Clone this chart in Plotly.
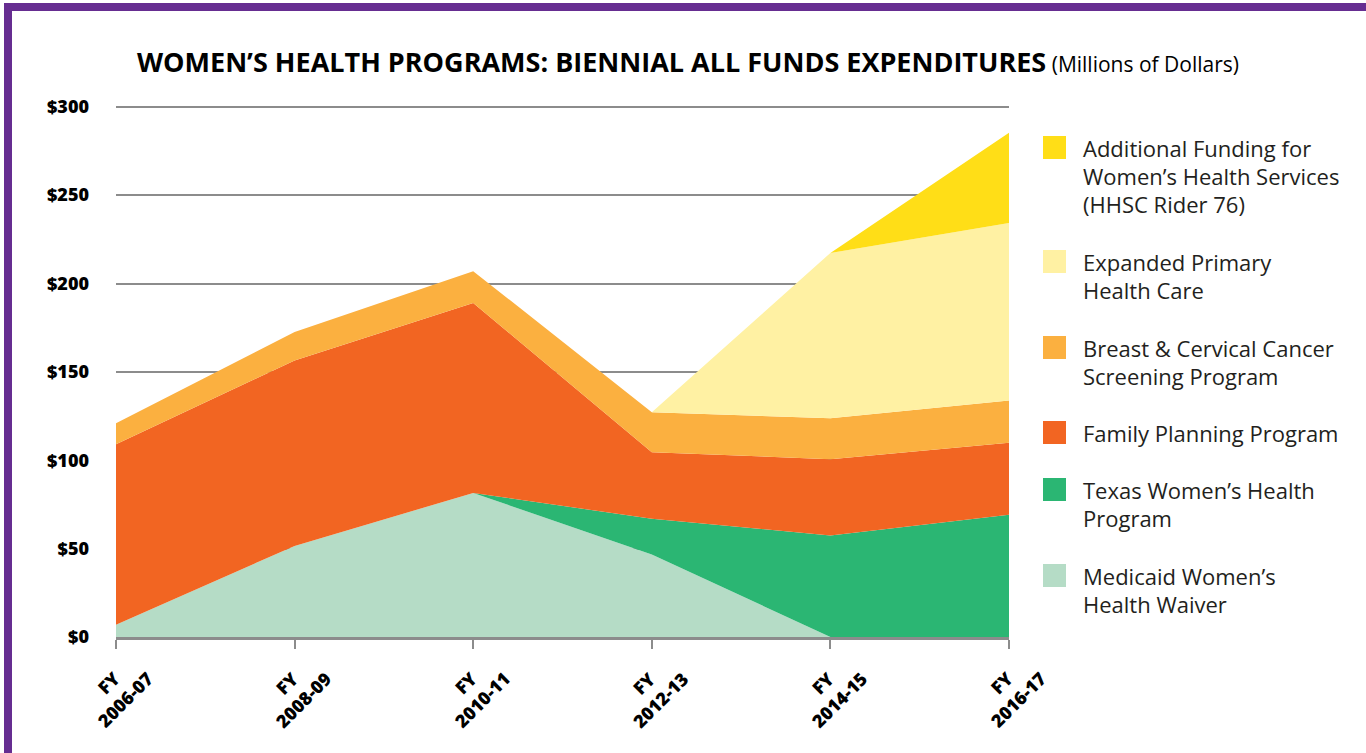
import plotly.graph_objects as go

# Biennial all funds expenditures, millions of dollars
years = ["FY 2006-07", "FY 2008-09", "FY 2010-11", "FY 2012-13", "FY 2014-15", "FY 2016-17"]
medicaid_waiver = [7, 51.5, 81.5, 46.7, 0, 0]
texas_whp = [0, 0, 0, 20.2, 57.4, 69.1]
family_planning = [102, 105, 107.5, 37.7, 43.2, 40.8]
breast_cervical = [12, 16, 18, 22.6, 23.2, 23.9]
expanded_primary = [0, 0, 0, 0, 93.5, 100.5]
rider_76 = [0, 0, 0, 0, 0, 51]

y_ticks = [0, 50, 100, 150, 200, 250, 300]
y_labels = ["$0", "$50", "$100", "$150", "$200", "$250", "$300"]

series_names = ["Medicaid Women’s Health Waiver", "Texas Women’s Health Program",
                "Family Planning Program", "Breast & Cervical Cancer Screening Program",
                "Expanded Primary Health Care",
                "Additional Funding for Women’s Health Services (HHSC Rider 76)"]
series_vals = [medicaid_waiver, texas_whp, family_planning, breast_cervical,
               expanded_primary, rider_76]
colors = ["#b5dcc6", "#2bb673", "#f26522", "#fbb040", "#fff1a3", "#ffde17"]

# legend text, top to bottom (wrapped like the original)
legend_lines = [
    ["Additional Funding for", "Women’s Health Services", "(HHSC Rider 76)"],
    ["Expanded Primary", "Health Care"],
    ["Breast & Cervical Cancer", "Screening Program"],
    ["Family Planning Program"],
    ["Texas Women’s Health", "Program"],
    ["Medicaid Women’s", "Health Waiver"],
]
legend_colors = colors[::-1]

W, H = 1366, 753
L, R, T, B = 116, 1009, 105, 637
FONT = "Open Sans"
GRAY = "#8c8c8c"
TXT = "#231f20"


def px(x):
    return (x - L) / (R - L)


def py(y):
    return (B - y) / (B - T)


fig = go.Figure()

for name, vals, col in zip(series_names, series_vals, colors):
    fig.add_trace(go.Scatter(x=years, y=vals, name=name,
                             stackgroup="one", mode="lines",
                             line=dict(width=0, color=col),
                             fillcolor=col, showlegend=False,
                             hoverinfo="skip"))

annotations = []
shapes = []

# title
annotations.append(dict(
    x=px(135), y=py(61), xref="paper", yref="paper",
    xanchor="left", yanchor="middle", showarrow=False,
    text="<b>WOMEN’S HEALTH PROGRAMS: BIENNIAL ALL FUNDS EXPENDITURES</b>"
         "<span style='font-size:21px;font-weight:normal'> (Millions of Dollars)</span>",
    font=dict(family=FONT, size=27, color="black", weight=800)))

# x tick labels, rotated
for yr in years:
    fy, span = yr.split(" ")
    annotations.append(dict(
        x=yr, y=0, xref="x", yref="y", yshift=-54,
        xanchor="center", yanchor="middle", showarrow=False,
        textangle=-45, align="center",
        text=f"{fy}<br>{span}",
        font=dict(family=FONT, size=18, color="black", weight=800)))

# manual legend with square swatches
tops = [136, 250, 336, 421, 478, 564]
for lines, col, top in zip(legend_lines, legend_colors, tops):
    shapes.append(dict(type="rect", xref="paper", yref="paper",
                       x0=px(1043), x1=px(1066), y0=py(top), y1=py(top + 23),
                       fillcolor=col, line=dict(width=0)))
    for i, ln in enumerate(lines):
        annotations.append(dict(
            x=px(1081), y=py(top + 12 + 28 * i), xref="paper", yref="paper",
            xanchor="left", yanchor="middle", showarrow=False, text=ln,
            font=dict(family=FONT, size=22, color=TXT)))

# purple frame (left and top edges)
shapes.append(dict(type="rect", xref="paper", yref="paper",
                   x0=px(4), x1=px(12), y0=py(H + 5), y1=py(3),
                   fillcolor="#662d91", line=dict(width=0)))
shapes.append(dict(type="rect", xref="paper", yref="paper",
                   x0=px(4), x1=px(W + 5), y0=py(11), y1=py(3),
                   fillcolor="#662d91", line=dict(width=0)))

fig.update_layout(
    width=W, height=H,
    margin=dict(l=L, r=W - R, t=T, b=H - B, pad=0),
    paper_bgcolor="white", plot_bgcolor="white",
    font=dict(family=FONT, color="black"),
    showlegend=False,
    annotations=annotations,
    shapes=shapes,
    xaxis=dict(type="category", range=[0, 5], showgrid=False,
               showline=True, linecolor=GRAY, linewidth=2.5,
               ticks="outside", ticklen=9, tickwidth=2, tickcolor=GRAY,
               showticklabels=False, zeroline=False),
    xaxis2=dict(overlaying="x", anchor="y", range=[0, 5],
                tickvals=list(range(len(years))), showgrid=False,
                ticks="inside", ticklen=8, tickwidth=2, tickcolor=GRAY,
                showticklabels=False, showline=False, zeroline=False,
                side="bottom"),
    yaxis=dict(range=[0, 301], tickvals=y_ticks, ticktext=y_labels,
               showgrid=True, gridcolor=GRAY, gridwidth=2,
               zeroline=False, showline=False, ticks="",
               ticklabelstandoff=26,
               tickfont=dict(family=FONT, size=18, color="black", weight=800)),
)

fig.write_html("out.html", config={"displayModeBar": False},
               post_script="document.body.style.margin='0';")
